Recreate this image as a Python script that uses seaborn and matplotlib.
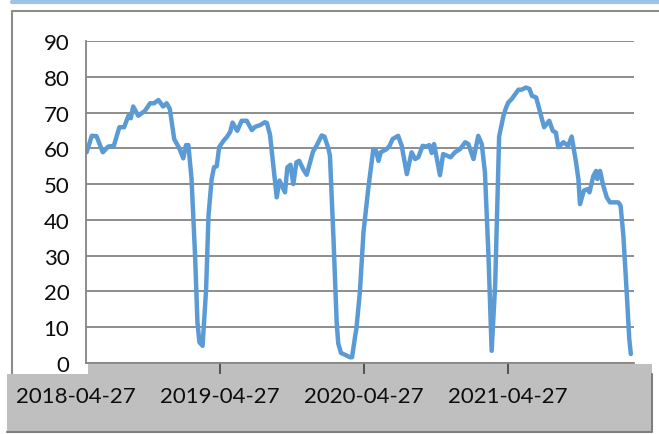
import pandas as pd
import numpy as np
import seaborn as sns
import matplotlib.pyplot as plt
from matplotlib.patches import Rectangle
from matplotlib.lines import Line2D
from matplotlib.transforms import blended_transform_factory

# days after 2018-04-27
day_offsets = [27, 40, 52, 68, 82, 96, 110, 122, 133, 139, 145, 158, 175, 188, 198, 209, 221, 230,
               238, 249, 262, 272, 279, 285, 293, 302, 308, 313, 321, 330, 336, 344, 350, 357, 363,
               374, 382, 391, 397, 409, 420, 433, 446, 454, 467, 479, 484, 492, 509, 516, 524, 530,
               536, 544, 551, 559, 566, 576, 585, 601, 610, 623, 630, 640, 644, 653, 661, 665, 672,
               682, 695, 700, 708, 711, 720, 729, 741, 754, 761, 767, 773, 788, 795, 803, 817, 826,
               839, 851, 860, 868, 879, 888, 896, 902, 908, 923, 931, 942, 950, 961, 974, 987, 995,
               1008, 1020, 1029, 1037, 1046, 1054, 1063, 1073, 1084, 1090, 1096, 1105, 1122, 1130,
               1141, 1150, 1156, 1167, 1177, 1187, 1200, 1209, 1217, 1223, 1236, 1248, 1257, 1268,
               1274, 1278, 1288, 1297, 1302, 1312, 1319, 1322, 1329, 1337, 1346, 1354, 1375, 1381,
               1388, 1397, 1403, 1407]
values = [58.9, 63.5, 63.4, 58.9, 60.5, 60.7, 65.9, 65.9, 69.1, 68.4, 71.7, 69.1, 70.5, 72.6, 72.6,
          73.5, 71.7, 72.6, 71.0, 62.6, 60.0, 57.2, 60.9, 60.9, 51.5, 30.0, 11.4, 5.8, 4.8, 20.7,
          41.2, 51.4, 54.7, 55.0, 60.3, 62.1, 63.1, 64.6, 67.2, 64.9, 67.7, 67.7, 65.1, 66.0, 66.5,
          67.3, 67.1, 63.8, 46.3, 51.0, 49.1, 47.7, 54.7, 55.4, 50.0, 56.1, 56.5, 54.2, 52.6, 59.1,
          60.7, 63.6, 63.3, 60.0, 57.9, 34.7, 11.4, 5.5, 2.8, 2.3, 1.6, 1.6, 7.6, 9.5, 20.0, 36.5,
          48.6, 59.8, 59.3, 56.5, 58.9, 59.8, 60.7, 62.6, 63.5, 60.7, 52.8, 58.9, 57.0, 57.5, 60.7,
          60.5, 60.9, 58.7, 61.2, 52.5, 58.4, 57.9, 57.5, 58.9, 59.8, 61.7, 61.2, 57.0, 63.5, 61.2,
          53.3, 30.0, 3.4, 22.0, 63.3, 69.1, 71.2, 72.8, 73.8, 76.4, 76.4, 77.0, 76.6, 74.7, 74.2,
          70.0, 65.9, 67.7, 64.9, 64.4, 60.3, 61.7, 60.7, 63.3, 56.1, 51.4, 44.4, 48.2, 48.6, 47.7,
          52.3, 53.7, 51.4, 53.7, 49.6, 46.3, 44.9, 44.9, 44.0, 35.6, 18.8, 6.7, 2.5]
tick_dates = ["2018-04-27", "2019-04-27", "2020-04-27", "2021-04-27"]
y_ticks = [0, 10, 20, 30, 40, 50, 60, 70, 80, 90]

W, H = 659, 435


def fx(px):
    return px / W


def fy(py):
    return 1 - py / H


sns.set_theme(style="white")
plt.rcParams["font.family"] = ["Lato", "DejaVu Sans"]

start = pd.Timestamp(tick_dates[0])
df = pd.DataFrame({"date": start + pd.to_timedelta(day_offsets, unit="D"), "value": values})

fig = plt.figure(figsize=(W / 100, H / 100), dpi=100)
ax = fig.add_axes([fx(86), fy(364), fx(634) - fx(86), fy(42) - fy(364)])

sns.lineplot(data=df, x="date", y="value", ax=ax, color="#5B9BD5", linewidth=3.2)

ax.set_xlim(start + pd.Timedelta(days=25.4), start + pd.Timedelta(days=1415))
ax.set_ylim(0, 90)
ax.set_yticks(y_ticks)
ax.set_yticklabels([str(v) for v in y_ticks], fontsize=16, color="#0D0D0D")
ax.tick_params(axis="y", length=0, pad=12)
ax.yaxis.grid(True, color="#858585", linewidth=1.3)
ax.set_xlabel("")
ax.set_ylabel("")
for side in ["top", "right"]:
    ax.spines[side].set_visible(False)
ax.spines["left"].set_color("#858585")
ax.spines["bottom"].set_color("#858585")
ax.spines["left"].set_linewidth(1.3)
ax.spines["bottom"].set_linewidth(1.3)

tick_pos = [pd.Timestamp(d) for d in tick_dates[1:]]
ax.set_xticks(tick_pos)
ax.set_xticklabels([""] * len(tick_pos))
ax.tick_params(axis="x", direction="out", length=8, width=1.2, color="#404040", bottom=True)

# gray label band below the plot
fig.add_artist(Rectangle((fx(7), fy(433)), fx(652) - fx(7), fy(375) - fy(433),
                         transform=fig.transFigure, facecolor="#BFBFBF", edgecolor="none", zorder=-1))
fig.add_artist(Rectangle((fx(88), fy(375)), fx(652) - fx(88), fy(365) - fy(375),
                         transform=fig.transFigure, facecolor="#BFBFBF", edgecolor="none", zorder=-1))
fig.add_artist(Line2D([fx(7), fx(652), fx(652)], [fy(433), fy(433), fy(375)],
                      transform=fig.transFigure, color="#7F7F7F", linewidth=1.5, zorder=-1))

trans = blended_transform_factory(ax.transData, fig.transFigure)
for d in tick_dates:
    ax.text(pd.Timestamp(d), fy(397), d, transform=trans, ha="center", va="center",
            fontsize=16, color="#0D0D0D", clip_on=False)

# outer chart frame and blue top rule
fig.add_artist(Line2D([fx(12), fx(12), fx(659)], [fy(375), fy(12), fy(12)],
                      transform=fig.transFigure, color="#8C8C8C", linewidth=1.5, zorder=-2))
fig.add_artist(Line2D([fx(12), fx(659)], [fy(3), fy(3)],
                      transform=fig.transFigure, color="#9DC3E6", linewidth=3, zorder=-2))

fig.savefig("out.png", dpi=100)
